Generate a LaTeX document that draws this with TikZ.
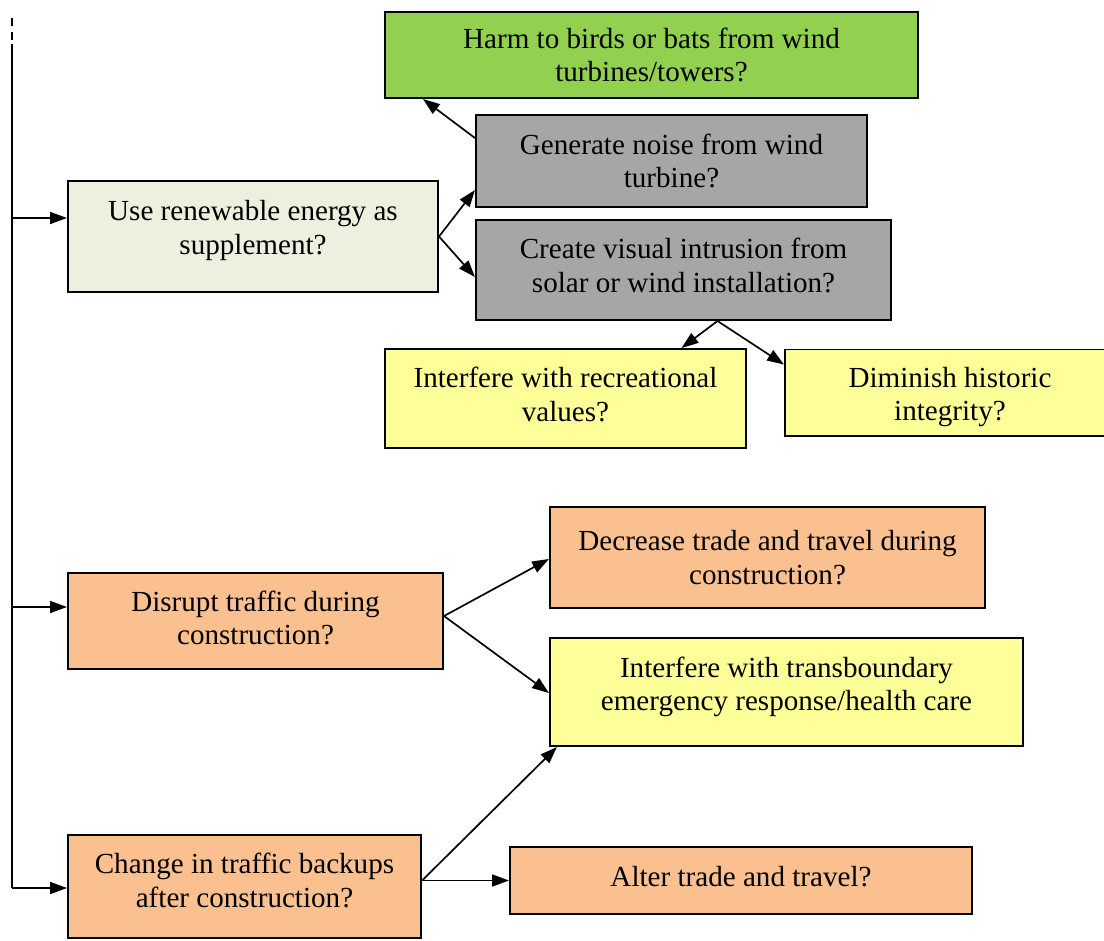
\documentclass[tikz,border=0pt]{standalone}
\usepackage{fontspec}
\setmainfont{LiberationSerif}[Extension=.ttf, UprightFont=*-Regular, BoldFont=*-Bold, ItalicFont=*-Italic]
\usetikzlibrary{arrows.meta}

\definecolor{harmgreen}{RGB}{146,208,80}
\definecolor{boxgray}{RGB}{166,166,166}
\definecolor{palegreen}{RGB}{235,241,222}
\definecolor{boxyellow}{RGB}{255,255,153}
\definecolor{boxorange}{RGB}{250,192,144}

\tikzset{
  box/.style={draw, line width=1.4pt, align=center, inner sep=2pt, font=\rmfamily\fontsize{20.7}{23.8}\selectfont},
  lift/.style={text depth=#1},
  arr/.style={line width=1.2pt, -{Triangle[length=12pt,width=8.5pt]}}
}

\begin{document}
\begin{tikzpicture}[x=0.025cm, y=-0.025cm]
\useasboundingbox (0,0) rectangle (1104,940);

\node[box, fill=harmgreen, minimum width=13.325cm, minimum height=2.15cm] (harm) at (651.5,55) {Harm to birds or bats from wind\\turbines/towers?};
\node[box, fill=boxgray, minimum width=9.775cm, minimum height=2.3cm] (noise) at (671.5,161) {Generate noise from wind\\turbine?};
\node[box, fill=palegreen, minimum width=9.25cm, minimum height=2.775cm, lift=13pt] (renew) at (253,236.5) {Use renewable energy as\\supplement?};
\node[box, fill=boxgray, minimum width=10.375cm, minimum height=2.5cm, lift=6.5pt] (visual) at (683.5,270) {Create visual intrusion from\\solar or wind installation?};
\node[box, fill=boxyellow, minimum width=9.025cm, minimum height=2.475cm, lift=6pt] (recr) at (565.5,398.5) {Interfere with recreational\\values?};
\begin{scope}
\clip (780,340) rectangle (1110,436);
\node[box, fill=boxyellow, minimum width=8.125cm, minimum height=2.15cm] (hist) at (947.5,392.5) {};
\node[font=\rmfamily\fontsize{20.7}{23.8}\selectfont, align=center] (histtext) at (950,397) {Diminish historic\\integrity?};
\end{scope}

\node[box, fill=boxorange, minimum width=10.875cm, minimum height=2.525cm] (decr) at (767.5,557.5) {Decrease trade and travel during\\construction?};
\node[box, fill=boxorange, minimum width=9.375cm, minimum height=2.4cm, lift=4.5pt] (disr) at (255.5,621) {Disrupt traffic during\\construction?};
\node[box, fill=boxyellow, minimum width=11.825cm, minimum height=2.7cm, lift=11.6pt] (trans) at (786.5,692) {Interfere with transboundary\\emergency response/health care};
\node[box, fill=boxorange, minimum width=8.825cm, minimum height=2.575cm, lift=8.8pt] (chg) at (244.5,886.5) {Change in traffic backups\\after construction?};
\node[box, fill=boxorange, minimum width=11.55cm, minimum height=1.675cm, lift=6pt] (alter) at (741,880.5) {Alter trade and travel?};

\coordinate (top) at (12,18);
\coordinate (dashend) at (12,44);
\coordinate (s1) at (12,218);
\coordinate (s2) at (12,607);
\coordinate (s3) at (12,888);
\draw[line width=1.2pt, dash pattern=on 6pt off 4pt] (top) -- (dashend);
\draw[line width=1.2pt] (dashend) -- (s3);
\draw[arr] (s1) -- (s1 -| renew.west);
\draw[arr] (s2) -- (s2 -| disr.west);
\draw[arr] (s3) -- (s3 -| chg.west);

\draw[arr] ([yshift=-0.6cm]noise.north west) -- ([xshift=0.975cm]harm.south west);
\draw[arr] (renew.east) -- ([yshift=-1.9cm]noise.north west);
\draw[arr] (renew.east) -- ([yshift=-1.45cm]visual.north west);
\draw[arr] ([xshift=0.85cm]visual.south) -- ([xshift=2.9cm]recr.north);
\draw[arr] ([xshift=0.85cm]visual.south) -- ([yshift=-0.4cm]hist.north west);

\draw[arr] ([yshift=0.125cm]disr.east) -- ([yshift=1.25cm]decr.south west);
\draw[arr] ([yshift=0.125cm]disr.east) -- ([yshift=1.35cm]trans.south west);
\draw[arr] (chg.east |- alter.west) -- ([xshift=0.2cm]trans.south west);
\draw[arr] (chg.east |- alter.west) -- (alter.west);
\end{tikzpicture}
\end{document}
